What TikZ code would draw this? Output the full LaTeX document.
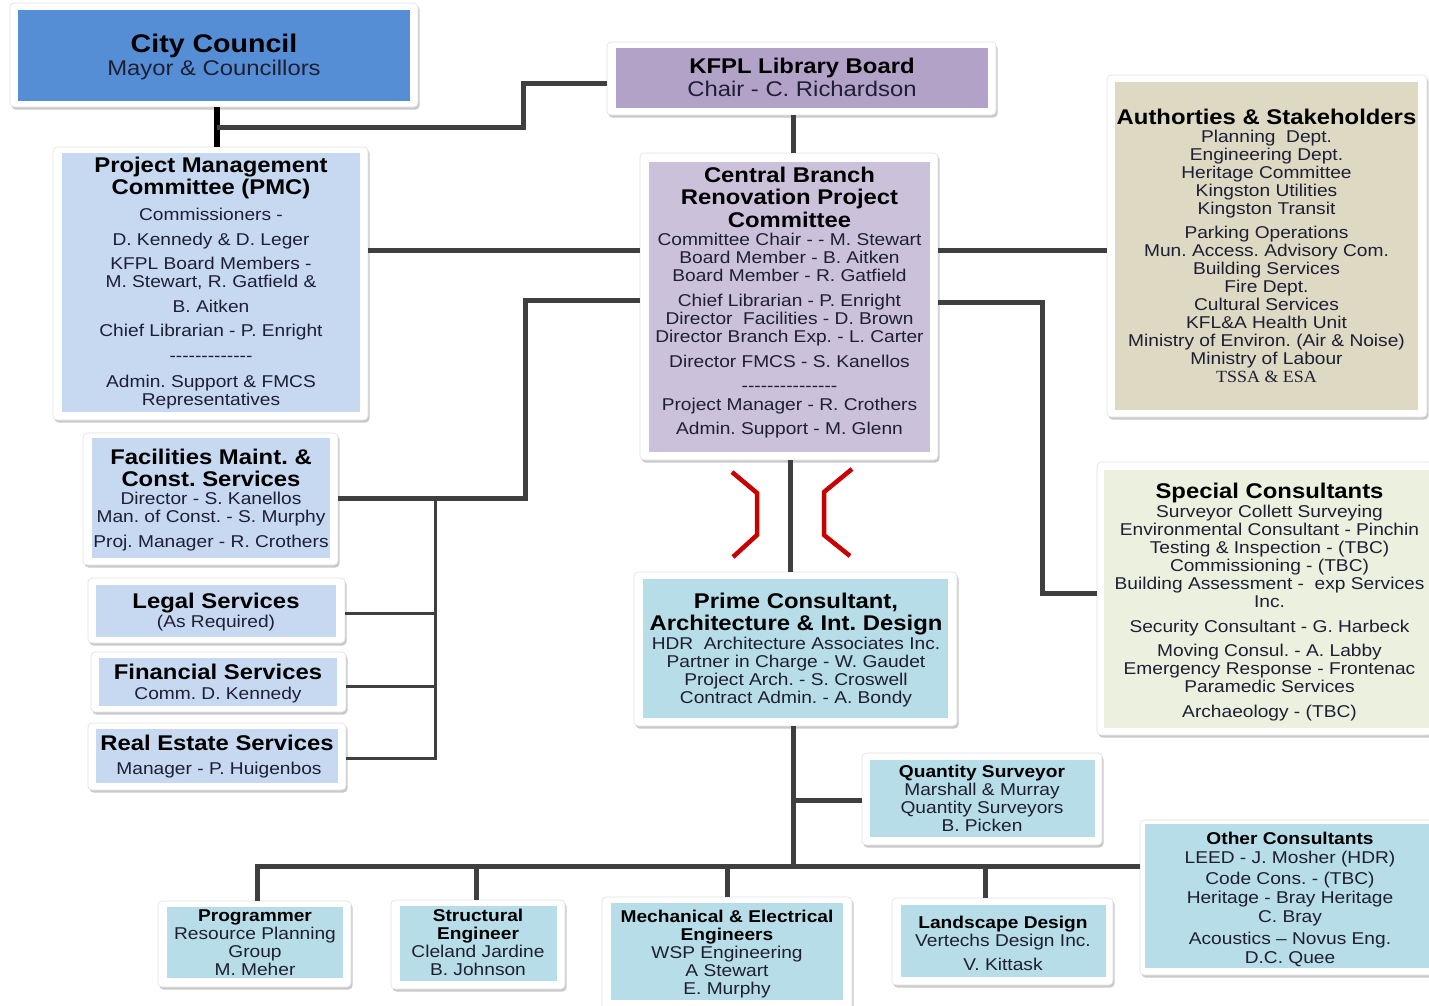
\documentclass[tikz,border=0pt]{standalone}
\usepackage{fontspec}
\setmainfont{Liberation Sans}[FakeStretch=1.12]
\newfontfamily\seriffont{Liberation Serif}[FakeStretch=1.05]
\usetikzlibrary{fit,shadows}
\definecolor{ccblue}{HTML}{558ED5}
\definecolor{kfpl}{HTML}{B3A2C7}
\definecolor{auth}{HTML}{DDD9C3}
\definecolor{lblue}{HTML}{C6D9F1}
\definecolor{lilac}{HTML}{CCC1DA}
\definecolor{spec}{HTML}{EBF1DE}
\definecolor{aqua}{HTML}{B7DDE8}
\definecolor{txt}{HTML}{1E1E34}
\definecolor{linec}{HTML}{3F3F3F}
\definecolor{redb}{HTML}{C80000}
\newcommand\dsh[1]{\foreach \k in {1,...,#1}{\mbox{-}}}
\newcommand\ob[6]{%
  \node[frame, fit={(#2)(#3)}] (#1) {};
  \fill[#6] (#4) rectangle (#5);}
\begin{document}
\frenchspacing
\begin{tikzpicture}[x=1pt,y=-1pt,
  frame/.style={rectangle, rounded corners=4pt, fill=white, draw=black!12, line width=0.6pt, inner sep=0pt,
     drop shadow={shadow xshift=1.5pt, shadow yshift=-2.5pt, opacity=0.35, fill=black!60}},
  ttl/.style={font=\bfseries\fontsize{21.3}{22}\selectfont, align=center, inner sep=0pt, text=black, anchor=base},
  bdy/.style={font=\fontsize{17.1}{18}\selectfont, align=center, inner sep=0pt, text=txt, anchor=base},
  conn/.style={draw=linec, line width=5pt},
  tconn/.style={draw=linec, line width=3pt},
  blk/.style={draw=black, line width=6pt},
  redbr/.style={draw=redb, line width=4.5pt, line join=miter}]
\useasboundingbox (0,0) rectangle (1429,1005);
\fill[white] (0,0) rectangle (1429,1005);

% boxes
\ob{cc}{10,3}{418,107}{18,10}{410,101}{ccblue}
\ob{kfplb}{607,42}{996,115}{616,48}{988,108}{kfpl}
\ob{authb}{1107,75}{1427,417}{1115,82}{1418,410}{auth}
\ob{pmc}{53,147}{368,420}{62,153}{360,412}{lblue}
\ob{central}{640,153}{938,460}{649,162}{930,452}{lilac}
\ob{fac}{83,433}{338,565}{92,438}{330,558}{lblue}
\ob{legal}{88,578}{345,643}{96,585}{336,637}{lblue}
\ob{fin}{91,652}{346,712}{99,658}{337,706}{lblue}
\ob{real}{88,723}{346,790}{96,729}{338,783}{lblue}
\ob{special}{1097,462}{1432,735}{1104,470}{1429,728}{spec}
\ob{prime}{634,572}{957,726}{643,579}{948,718}{aqua}
\ob{qs}{862,753}{1102,845}{870,760}{1095,837}{aqua}
\ob{others}{1140,820}{1434,975}{1145,824}{1429,968}{aqua}
\ob{prog}{158,901}{351,987}{167,907}{343,978}{aqua}
\ob{struct}{391,900}{565,989}{400,906}{557,981}{aqua}
\ob{mech}{602,897}{852,1012}{611,903}{843,1000}{aqua}
\ob{land}{892,898}{1113,985}{901,905}{1106,977}{aqua}

% texts (anchor=base sits on the LAST line's baseline)
\node[ttl, font=\bfseries\fontsize{25.5}{26}\selectfont] (cc-t) at (214,52) {City Council};
\node[bdy, font=\fontsize{21.3}{22}\selectfont] (cc-s) at (214,75) {Mayor \& Councillors};

\node[ttl] (kfpl-t) at (802,73) {KFPL Library Board};
\node[bdy, font=\fontsize{21.3}{22}\selectfont] (kfpl-s) at (802,96) {Chair - C. Richardson};

\node[ttl] (auth-t) at (1266.5,124.5) {Authorties \& Stakeholders};
\node[bdy] (auth-b) at (1266.5,382.5) {Planning\ \ Dept.\\Engineering Dept.\\Heritage Committee\\Kingston Utilities\\Kingston Transit\\[6pt]Parking Operations\\Mun. Access. Advisory Com.\\Building Services\\Fire Dept.\\Cultural Services\\KFL\&A Health Unit\\Ministry of Environ. (Air \& Noise)\\Ministry of Labour\\{\seriffont TSSA \& ESA}};

\node[ttl] (pmc-t) at (211,194) {Project Management\\Committee (PMC)};
\node[bdy] (pmc-b) at (211,405.5) {Commissioners -\\[7pt]D. Kennedy \& D. Leger\\[6pt]KFPL Board Members -\\M. Stewart, R. Gatfield \&\\[7pt]B. Aitken\\[6pt]Chief Librarian - P. Enright\\[7pt]\dsh{13}\\[8pt]Admin. Support \& FMCS\\Representatives};

\node[ttl, font=\bfseries\fontsize{21.3}{22.5}\selectfont] (central-t) at (789.5,227) {Central Branch\\Renovation Project\\Committee};
\node[bdy] (central-b) at (789.5,434.5) {Committee Chair - - M. Stewart\\Board Member - B. Aitken\\Board Member - R. Gatfield\\[7pt]Chief Librarian - P. Enright\\Director\ \ Facilities - D. Brown\\Director Branch Exp. - L. Carter\\[7pt]Director FMCS - S. Kanellos\\[6pt]\dsh{15}\\[1pt]Project Manager - R. Crothers\\[6pt]Admin. Support - M. Glenn};

\node[ttl] (fac-t) at (211,486) {Facilities Maint. \&\\Const. Services};
\node[bdy] (fac-b) at (211,547) {Director - S. Kanellos\\Man. of Const. - S. Murphy\\[7pt]Proj. Manager - R. Crothers};

\node[ttl] (legal-t) at (216,608.5) {Legal Services};
\node[bdy] (legal-s) at (216,627) {(As Required)};
\node[ttl] (fin-t) at (218,679.5) {Financial Services};
\node[bdy] (fin-s) at (218,699) {Comm. D. Kennedy};
\node[ttl] (real-t) at (217,750.5) {Real Estate Services};
\node[bdy] (real-s) at (219,774) {Manager - P. Huigenbos};

\node[ttl] (special-t) at (1269.5,498.5) {Special Consultants};
\node[bdy] (special-b) at (1269.5,717) {Surveyor Collett Surveying\\Environmental Consultant - Pinchin\\Testing \& Inspection - (TBC)\\Commissioning - (TBC)\\Building Assessment -\ \ exp Services\\Inc.\\[7pt]Security Consultant - G. Harbeck\\[6pt]Moving Consul. - A. Labby\\Emergency Response - Frontenac\\Paramedic Services\\[7pt]Archaeology - (TBC)};

\node[ttl] (prime-t) at (796,630.5) {Prime Consultant,\\Architecture \& Int. Design};
\node[bdy] (prime-b) at (796,703) {HDR\ \ Architecture Associates Inc.\\Partner in Charge - W. Gaudet\\Project Arch. - S. Croswell\\Contract Admin. - A. Bondy};

\node[bdy, font=\fontsize{17.1}{17.7}\selectfont] (qs-b) at (982,831) {{\bfseries\color{black} Quantity Surveyor}\\Marshall \& Murray\\Quantity Surveyors\\B. Picken};

\node[bdy, font=\fontsize{17.1}{19}\selectfont] (others-b) at (1290,963) {{\bfseries\color{black} Other Consultants}\\LEED - J. Mosher (HDR)\\[2pt]Code Cons. - (TBC)\\Heritage - Bray Heritage\\C. Bray\\[3pt]Acoustics – Novus Eng.\\D.C. Quee};

\node[bdy, font=\fontsize{17.1}{17.7}\selectfont] (prog-b) at (255,975) {{\bfseries\color{black} Programmer}\\Resource Planning\\Group\\M. Meher};
\node[bdy, font=\fontsize{17.1}{17.7}\selectfont] (struct-b) at (478,975) {{\bfseries\color{black} Structural}\\{\bfseries\color{black} Engineer}\\Cleland Jardine\\B. Johnson};
\node[bdy] (mech-b) at (727,994) {{\bfseries\color{black} Mechanical \& Electrical}\\{\bfseries\color{black} Engineers}\\WSP Engineering\\A Stewart\\E. Murphy};
\node[bdy] (land-b) at (1003,970) {{\bfseries\color{black} Landscape Design}\\Vertechs Design Inc.\\[6pt]V. Kittask};

% connectors
\coordinate (j1) at (217,127);
\coordinate (j2) at (435,498);
\coordinate (j3) at (793,800);
\coordinate (j4) at (257,866);
\draw[blk] (217,0 |- cc.south) -- (217,0 |- pmc.north);
\draw[conn] (j1) -- (523,127) -- (523,83) -- (kfplb.west |- 0,83);
\draw[conn] (kfplb.south -| 793,0) -- (central.north -| 793,0);
\draw[conn] (pmc.east |- 0,250) -- (central.west |- 0,250);
\draw[conn] (central.west |- 0,300) -- (525,300) -- (525,498) -- (fac.east |- 0,498);
\draw[tconn] (j2) -- (435,758);
\draw[tconn] (legal.east |- 0,613) -- (435,613);
\draw[tconn] (fin.east |- 0,686) -- (435,686);
\draw[tconn] (real.east |- 0,758) -- (436.5,758);
\draw[conn] (central.east |- 0,250) -- (authb.west |- 0,250);
\draw[conn] (central.east |- 0,302) -- (1042,302) -- (1042,593) -- (special.west |- 0,593);
\draw[conn] (central.south -| 790,0) -- (prime.north -| 790,0);
\draw[conn] (prime.south -| 793,0) -- (793,868.5);
\draw[conn] (j3) -- (qs.west |- 0,800);
\draw[conn] (j4) -- (others.west |- 0,866);
\draw[conn] (257,863.5) -- (prog.north -| 257,0);
\draw[conn] (476,866) -- (struct.north -| 476,0);
\draw[conn] (727,866) -- (mech.north -| 727,0);
\draw[conn] (985,866) -- (land.north -| 985,0);
% red brackets
\draw[redbr] (732,472) -- (757,493) -- (757,535) -- (733,557);
\draw[redbr] (852,469) -- (824,492) -- (824,535) -- (850,556);
\end{tikzpicture}
\end{document}
